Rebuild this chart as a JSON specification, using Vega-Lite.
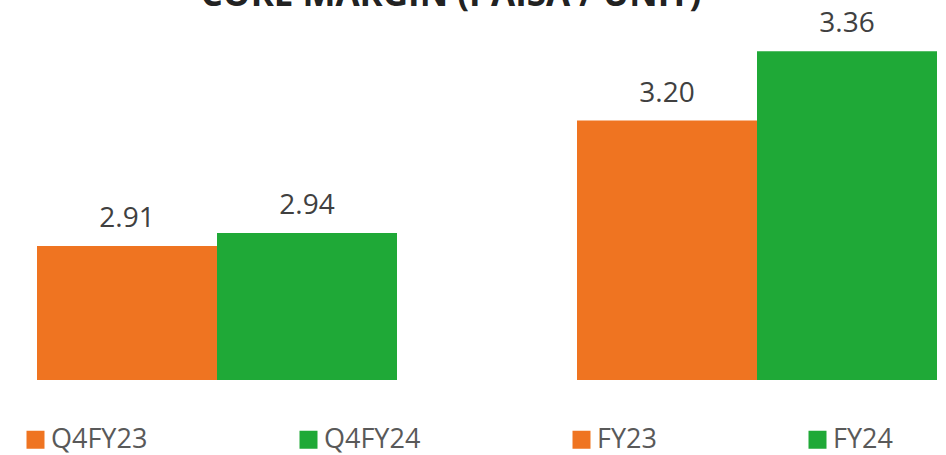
{
  "$schema": "https://vega.github.io/schema/vega-lite/v6.json",
  "autosize": "none",
  "padding": {"left": 37, "top": 34, "right": 9, "bottom": 75},
  "width": 900,
  "height": 346,
  "background": "white",
  "config": {"view": {"stroke": null}},
  "title": {
    "text": "CORE MARGIN (PAISA / UNIT)",
    "frame": "group",
    "anchor": "middle",
    "dx": -36,
    "dy": 31,
    "offset": 0,
    "baseline": "alphabetic",
    "font": "Open Sans",
    "fontSize": 35,
    "fontWeight": "bold",
    "color": "#222222"
  },
  "data": {
    "values": [
      {"series": "Q4FY23", "value": 2.91, "label": "2.91"},
      {"series": "Q4FY24", "value": 2.94, "label": "2.94"},
      {"series": "FY23", "value": 3.20, "label": "3.20"},
      {"series": "FY24", "value": 3.36, "label": "3.36"}
    ]
  },
  "encoding": {
    "x": {
      "field": "series",
      "type": "nominal",
      "scale": {"domain": ["Q4FY23", "Q4FY24", "", "FY23", "FY24"], "paddingInner": 0, "paddingOuter": 0},
      "axis": null
    }
  },
  "layer": [
    {
      "mark": {"type": "bar", "clip": false},
      "encoding": {
        "y": {"field": "value", "type": "quantitative", "scale": {"domain": [2.6, 3.4], "zero": false, "nice": false}, "axis": null},
        "y2": {"datum": 2.6},
        "color": {
          "field": "series",
          "type": "nominal",
          "scale": {"domain": ["Q4FY23", "Q4FY24", "FY23", "FY24"], "range": ["#EF7421", "#1FA937", "#EF7421", "#1FA937"]},
          "legend": {
            "title": null,
            "orient": "none",
            "direction": "horizontal",
            "columns": 4,
            "legendX": -15,
            "legendY": 392,
            "padding": 0,
            "columnPadding": 147,
            "symbolType": "square",
            "symbolSize": 324,
            "symbolStrokeWidth": 0,
            "symbolOpacity": 1,
            "labelFont": "Open Sans",
            "labelFontSize": 27,
            "labelColor": "#595959",
            "labelOffset": 2,
            "labelLimit": 300
          }
        }
      }
    },
    {
      "mark": {"type": "text", "baseline": "alphabetic", "dy": -19, "font": "Open Sans", "fontSize": 28, "color": "#404040"},
      "encoding": {
        "y": {"field": "value", "type": "quantitative"},
        "text": {"field": "label"}
      }
    }
  ]
}
